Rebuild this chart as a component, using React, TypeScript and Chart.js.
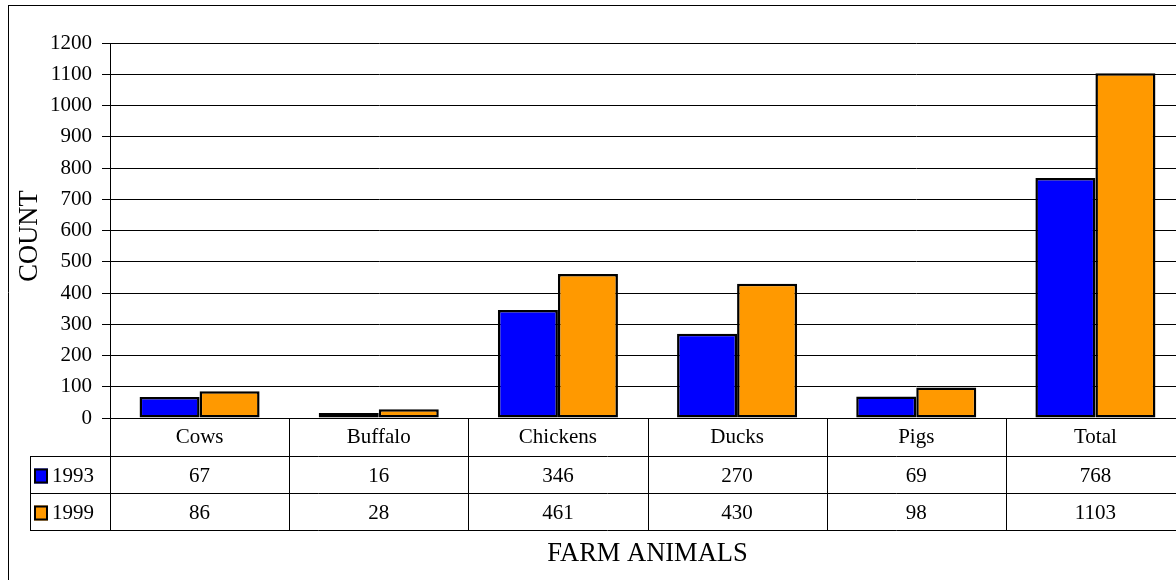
import React, { useEffect, useRef } from "react";
import { Chart, registerables } from "chart.js";

Chart.register(...registerables);

// ---- data ----
const categories = ["Cows", "Buffalo", "Chickens", "Ducks", "Pigs", "Total"];
const seriesNames = ["1993", "1999"];
const values1993 = [67, 16, 346, 270, 69, 768];
const values1999 = [86, 28, 461, 430, 98, 1103];
const seriesColors = ["#0000FF", "#FF9900"];
const yMin = 0;
const yMax = 1200;
const yStep = 100;
const yTitle = "COUNT";
const xTitle = "FARM ANIMALS";

const FONT = '"Liberation Serif", "Times New Roman", serif';

const tablePlugin = {
  id: "dataTableAndFrame",
  afterDraw(chart: any) {
    const ctx = chart.ctx as CanvasRenderingContext2D;
    const area = chart.chartArea;
    const xs = chart.scales.x;
    const n = categories.length;
    const cw = (area.right - area.left) / n;
    const series = [values1993, values1999];

    const headerTop = area.bottom;
    const row1Top = headerTop + 38;
    const row2Top = row1Top + 37;
    const tableBottom = row2Top + 37;
    const legendLeft = 30;

    ctx.save();
    ctx.strokeStyle = "#000";
    ctx.lineWidth = 1;
    const hline = (x1: number, x2: number, y: number) => {
      ctx.beginPath();
      ctx.moveTo(x1, Math.round(y) + 0.5);
      ctx.lineTo(x2, Math.round(y) + 0.5);
      ctx.stroke();
    };
    const vline = (x: number, y1: number, y2: number) => {
      ctx.beginPath();
      ctx.moveTo(Math.round(x) + 0.5, y1);
      ctx.lineTo(Math.round(x) + 0.5, y2);
      ctx.stroke();
    };

    // outer frame
    hline(8, chart.width, 5);
    vline(8, 5, chart.height);

    // table grid
    for (let i = 0; i <= n; i++) {
      const bx = area.left + i * cw;
      vline(bx, headerTop, tableBottom);
    }
    hline(area.left, area.right, headerTop);
    hline(legendLeft, area.right, row1Top);
    hline(legendLeft, area.right, row2Top);
    hline(legendLeft, area.right, tableBottom);
    vline(legendLeft, row1Top, tableBottom);

    // header labels
    ctx.fillStyle = "#000";
    ctx.font = `21px ${FONT}`;
    ctx.textAlign = "center";
    ctx.textBaseline = "alphabetic";
    categories.forEach((c, i) => {
      ctx.fillText(c, xs.getPixelForValue(i), headerTop + 25);
    });

    // data rows
    const rowTops = [row1Top, row2Top];
    series.forEach((vals, s) => {
      const base = rowTops[s] + 26;
      vals.forEach((v, i) => {
        ctx.textAlign = "center";
        ctx.fillText(String(v), xs.getPixelForValue(i), base);
      });
      // legend key
      const ky = rowTops[s] + 12.5;
      ctx.fillStyle = seriesColors[s];
      ctx.fillRect(34, ky, 14, 15);
      ctx.strokeStyle = "#000";
      ctx.lineWidth = 2;
      ctx.strokeRect(35, ky + 1, 12, 13);
      ctx.fillStyle = "#000";
      ctx.textAlign = "left";
      ctx.fillText(seriesNames[s], 52, base);
      ctx.lineWidth = 1;
    });

    // axis titles
    ctx.font = `26.5px ${FONT}`;
    ctx.textAlign = "center";
    ctx.textBaseline = "alphabetic";
    ctx.fillText(xTitle, (area.left + area.right) / 2, 561);

    ctx.save();
    ctx.translate(37, 236);
    ctx.rotate(-Math.PI / 2);
    ctx.fillText(yTitle, 0, 0);
    ctx.restore();

    ctx.restore();
  },
};

export default function App() {
  const canvasRef = useRef<HTMLCanvasElement | null>(null);

  useEffect(() => {
    const canvas = canvasRef.current;
    if (!canvas) return;
    const chart = new Chart(canvas, {
      type: "bar",
      data: {
        labels: categories,
        datasets: [
          {
            label: seriesNames[0],
            data: values1993,
            backgroundColor: seriesColors[0],
            borderColor: "#000",
            borderWidth: 2.5,
            borderSkipped: false,
            categoryPercentage: 0.67,
            barPercentage: 1,
          },
          {
            label: seriesNames[1],
            data: values1999,
            backgroundColor: seriesColors[1],
            borderColor: "#000",
            borderWidth: 2.5,
            borderSkipped: false,
            categoryPercentage: 0.67,
            barPercentage: 1,
          },
        ],
      },
      options: {
        animation: false,
        responsive: false,
        devicePixelRatio: 1,
        layout: { padding: { left: 0, top: 43, right: 15, bottom: 162 } },
        plugins: {
          legend: { display: false },
          tooltip: { enabled: false },
          title: { display: false },
        },
        scales: {
          x: { display: false },
          y: {
            min: yMin,
            max: yMax,
            afterFit: (scale: any) => {
              scale.width = 110;
            },
            ticks: {
              stepSize: yStep,
              color: "#000",
              padding: 10,
              font: { family: FONT, size: 21 },
              callback: (v: any) => String(v),
            },
            grid: {
              color: "#000",
              lineWidth: 1,
              tickLength: 8,
              drawTicks: true,
            },
            border: { display: true, color: "#000", width: 1 },
          },
        },
      },
      plugins: [tablePlugin],
    });
    return () => chart.destroy();
  }, []);

  return (
    <div
      style={{
        position: "fixed",
        left: 0,
        top: 0,
        width: 1176,
        height: 580,
        overflow: "hidden",
        background: "#fff",
      }}
    >
      <canvas
        ref={canvasRef}
        width={1200}
        height={580}
        style={{ display: "block", width: 1200, height: 580 }}
      />
    </div>
  );
}
